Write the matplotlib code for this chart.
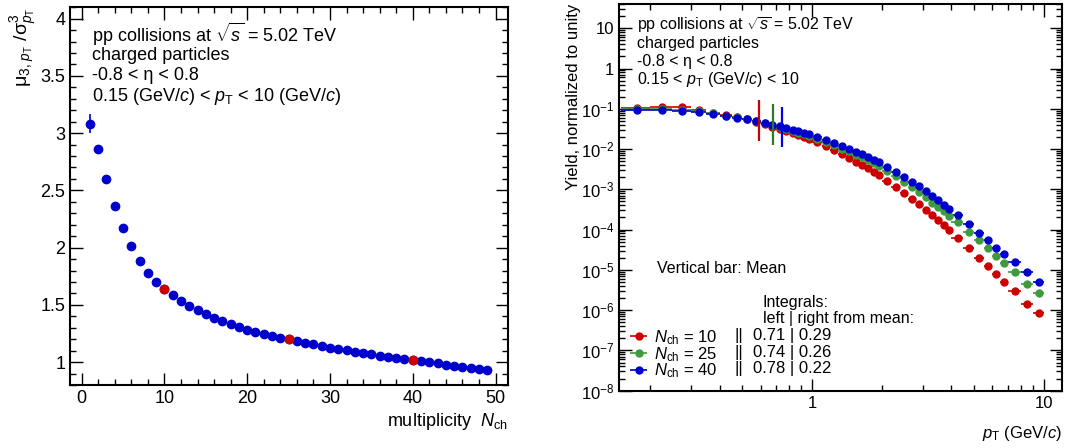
import numpy as np
import matplotlib.pyplot as plt
from matplotlib.ticker import MultipleLocator, LogLocator, FuncFormatter, NullFormatter

# 0. fuentes tipo ROOT (Helvetica -> Liberation Sans)
plt.rcParams['font.family'] = ['Liberation Sans', 'DejaVu Sans']
plt.rcParams['mathtext.fontset'] = 'custom'
plt.rcParams['mathtext.rm'] = 'Liberation Sans'
plt.rcParams['mathtext.it'] = 'Liberation Sans:italic'
plt.rcParams['mathtext.bf'] = 'Liberation Sans:bold'

# datos panel izquierdo: mu3 / sigma^3 vs multiplicidad
multiplicidad = list(range(1, 50))
momentoRatio = [3.083, 2.859, 2.598, 2.365, 2.170, 2.013, 1.882, 1.780, 1.701, 1.638,
                1.582, 1.536, 1.492, 1.454, 1.416, 1.384, 1.355, 1.329, 1.303, 1.283,
                1.262, 1.245, 1.227, 1.213, 1.198, 1.184, 1.169, 1.155, 1.140, 1.126,
                1.114, 1.102, 1.091, 1.079, 1.067, 1.055, 1.047, 1.038, 1.029, 1.020,
                1.009, 0.997, 0.989, 0.977, 0.968, 0.960, 0.951, 0.942, 0.930]
errorRatio = [0.08, 0.01, 0.01, 0.01, 0.01, 0.01, 0.01, 0.01, 0.01, 0.01,
              0.01, 0.01, 0.01, 0.01, 0.01, 0.01, 0.01, 0.01, 0.01, 0.01,
              0.01, 0.01, 0.01, 0.01, 0.01, 0.01, 0.01, 0.01, 0.01, 0.01,
              0.01, 0.01, 0.01, 0.01, 0.01, 0.01, 0.01, 0.01, 0.01, 0.01,
              0.01, 0.01, 0.01, 0.01, 0.01, 0.01, 0.01, 0.01, 0.01]
nchDestacados = [10, 25, 40]

# datos panel derecho: espectros pT
ptBordes = [0.15, 0.2, 0.25, 0.3, 0.35, 0.4, 0.45, 0.5, 0.55, 0.6, 0.65, 0.7, 0.75, 0.8,
            0.85, 0.9, 0.95, 1.0, 1.1, 1.2, 1.3, 1.4, 1.5, 1.6, 1.7, 1.8, 1.9, 2.0,
            2.2, 2.4, 2.6, 2.8, 3.0, 3.2, 3.4, 3.6, 3.8, 4.0, 4.5, 5.0, 5.5, 6.0,
            6.5, 7.0, 8.0, 9.0, 10.0]
yieldN10 = [0.106, 0.112, 0.110, 0.0955, 0.0809, 0.0705, 0.0619, 0.0545, 0.0478, 0.0412,
            0.0359, 0.0318, 0.0279, 0.0245, 0.0218, 0.0197, 0.0179, 0.0147, 0.0116, 0.0093,
            0.00736, 0.0060, 0.00485, 0.00402, 0.00332, 0.00274, 0.00226, 0.00164, 0.00114,
            8.1e-4, 5.8e-4, 4.3e-4, 3.1e-4, 2.26e-4, 1.72e-4, 1.28e-4, 9.6e-5, 6.2e-5,
            3.44e-5, 2.02e-5, 1.23e-5, 7.8e-6, 4.9e-6, 2.96e-6, 1.38e-6, 8.3e-7]
yieldN25 = [0.0991, 0.101, 0.0955, 0.0871, 0.0773, 0.0681, 0.0612, 0.0551, 0.0494, 0.0437,
            0.0389, 0.0352, 0.0317, 0.0285, 0.0256, 0.0234, 0.0215, 0.0182, 0.0152, 0.0124,
            0.0103, 0.00877, 0.00731, 0.00621, 0.00527, 0.00448, 0.00379, 0.0029, 0.00209,
            0.00151, 0.00113, 8.6e-4, 6.3e-4, 4.7e-4, 3.7e-4, 2.87e-4, 2.19e-4, 1.52e-4,
            8.7e-5, 5.4e-5, 3.4e-5, 2.2e-5, 1.44e-5, 8.7e-6, 4.5e-6, 2.7e-6]
yieldN40 = [0.0946, 0.0944, 0.0891, 0.0813, 0.0738, 0.0658, 0.0598, 0.0545, 0.0494, 0.0442,
            0.0398, 0.0365, 0.0332, 0.0302, 0.0274, 0.0254, 0.0236, 0.0202, 0.0170, 0.0141,
            0.0119, 0.0102, 0.00859, 0.00738, 0.00634, 0.00545, 0.00467, 0.00365, 0.00269,
            0.00199, 0.00152, 0.00119, 8.9e-4, 6.8e-4, 5.4e-4, 4.2e-4, 3.3e-4, 2.26e-4,
            1.38e-4, 8.4e-5, 5.4e-5, 3.5e-5, 2.44e-5, 1.55e-5, 8.7e-6, 5.0e-6]
mediaPt = [0.59, 0.68, 0.74]
barraBaja = [0.0158, 0.0123, 0.011]
barraAlta = [0.162, 0.128, 0.108]
integralIzq = ['0.71', '0.74', '0.78']
integralDer = ['0.29', '0.26', '0.22']

colorRojo = '#cc0000'
colorVerde = '#3d9a3d'
colorAzul = '#0000cc'
coloresSerie = [colorRojo, colorVerde, colorAzul]
coloresBarra = [colorRojo, '#2f7a2f', '#0000ee']

# 1. figura
fig = plt.figure(figsize=(10.69, 4.48), dpi=100)
ax1 = fig.add_axes([0.0655, 0.1406, 0.4097, 0.8434])
ax2 = fig.add_axes([0.579, 0.128, 0.4145, 0.863])

# 2. panel izquierdo
ax1.errorbar(multiplicidad, momentoRatio, yerr=errorRatio, fmt='o', color=colorAzul,
             ms=6, elinewidth=1.2, capsize=0, zorder=3)
idx = [n - 1 for n in nchDestacados]
ax1.plot([multiplicidad[i] for i in idx], [momentoRatio[i] for i in idx], 'o',
         color=colorRojo, ms=6, zorder=4)
ax1.set_xlim(-1.4, 51.5)
ax1.set_ylim(0.8, 4.1)
ax1.xaxis.set_major_locator(MultipleLocator(10))
ax1.xaxis.set_minor_locator(MultipleLocator(2))
ax1.yaxis.set_major_locator(MultipleLocator(0.5))
ax1.yaxis.set_minor_locator(MultipleLocator(0.1))
ax1.yaxis.set_major_formatter(FuncFormatter(lambda v, p: ('%g' % v)))
ax1.set_xlabel(r'multiplicity  $N_{\rm ch}$', fontsize=13, loc='right')
ax1.set_ylabel('\u03bc$_{3,\\,p_{\\rm T}}$ /\u03c3$^{3}_{p_{\\rm T}}$', fontsize=14, loc='top')
ax1.yaxis.set_label_coords(-0.07, 1.0)
ax1.xaxis.set_label_coords(1.0, -0.07)
textoIzq = ['pp collisions at $\\sqrt{s}$ = 5.02 TeV', 'charged particles',
            '-0.8 < \u03b7 < 0.8', '0.15 (GeV/$c$) < $p_{\\rm T}$ < 10 (GeV/$c$)']
for k, t in enumerate(textoIzq):
    ax1.text(0.05, 0.928 - k * 0.055, t, transform=ax1.transAxes, fontsize=13, va='center')

# 3. panel derecho
bordes = np.array(ptBordes)
centros = 0.5 * (bordes[1:] + bordes[:-1])
anchos = 0.5 * (bordes[1:] - bordes[:-1])
etiquetas = [r'$N_{\rm ch}$ = %d' % n for n in nchDestacados]
series = [yieldN10, yieldN25, yieldN40]
manejadores = []
for serie, col, et in zip(series, coloresSerie, etiquetas):
    h = ax2.errorbar(centros, serie, xerr=anchos, fmt='o', color=col, ms=5,
                     elinewidth=1.2, capsize=0, label=et)
    manejadores.append(h)
ax2.vlines(mediaPt, barraBaja, barraAlta, colors=coloresBarra, lw=1.6, zorder=5)
ax2.set_xscale('log')
ax2.set_yscale('log')
ax2.set_xlim(0.147, 12)
ax2.set_ylim(1e-8, 40)


def formatoLog(v, p):
    e = int(round(np.log10(v)))
    if e == 0:
        return '1'
    if e == 1:
        return '10'
    return r'$10^{%d}$' % e


ax2.yaxis.set_major_locator(LogLocator(base=10, numticks=20))
ax2.yaxis.set_minor_locator(LogLocator(base=10, subs=np.arange(2, 10), numticks=20))
ax2.yaxis.set_major_formatter(FuncFormatter(formatoLog))
ax2.yaxis.set_minor_formatter(NullFormatter())
ax2.xaxis.set_major_formatter(FuncFormatter(formatoLog))
ax2.xaxis.set_minor_formatter(NullFormatter())
ax2.set_xlabel(r'$p_{\rm T}$ (GeV/$c$)', fontsize=12, loc='right')
ax2.xaxis.set_label_coords(1.0, -0.085)
ax2.set_ylabel('Yield, normalized to unity', fontsize=12, loc='top')
ax2.yaxis.set_label_coords(-0.085, 1.0)
textoDer = ['pp collisions at $\\sqrt{s}$ = 5.02 TeV', 'charged particles',
            '-0.8 < \u03b7 < 0.8', '0.15 < $p_{\\rm T}$ (GeV/$c$) < 10']
for k, t in enumerate(textoDer):
    ax2.text(0.04, 0.945 - k * 0.047, t, transform=ax2.transAxes, fontsize=11.5, va='center')
ax2.text(0.085, 0.317, 'Vertical bar: Mean', transform=ax2.transAxes, fontsize=11.5, va='center')
ax2.text(0.325, 0.228, 'Integrals:', transform=ax2.transAxes, fontsize=11.5, va='center')
ax2.text(0.325, 0.186, 'left | right from mean:', transform=ax2.transAxes, fontsize=11.5, va='center')

leyenda = ax2.legend(handles=manejadores, loc='lower left', bbox_to_anchor=(0.02, 0.027),
                     frameon=False, fontsize=12, handlelength=1.3, handletextpad=0.25,
                     labelspacing=-0.12, borderpad=0, borderaxespad=0)

# 4. ticks estilo ROOT
for ax, tam in ((ax1, 13), (ax2, 12)):
    ax.tick_params(which='both', direction='in', top=True, right=True, labelsize=tam)
    ax.tick_params(which='major', length=9, width=1)
    ax.tick_params(which='minor', length=4.5, width=1)
    for s in ax.spines.values():
        s.set_linewidth(1.5)

# 5. columnas de integrales alineadas con la leyenda
fig.canvas.draw()
inv = ax2.transAxes.inverted()
for txt, izq, der in zip(leyenda.get_texts(), integralIzq, integralDer):
    bb = txt.get_window_extent()
    yc = inv.transform((0, 0.5 * (bb.y0 + bb.y1) + 2))[1]
    ax2.text(0.26, yc, '||', transform=ax2.transAxes, fontsize=12, va='center')
    ax2.text(0.303, yc, izq + ' | ' + der, transform=ax2.transAxes, fontsize=12, va='center')

fig.savefig('out.png', dpi=100)
